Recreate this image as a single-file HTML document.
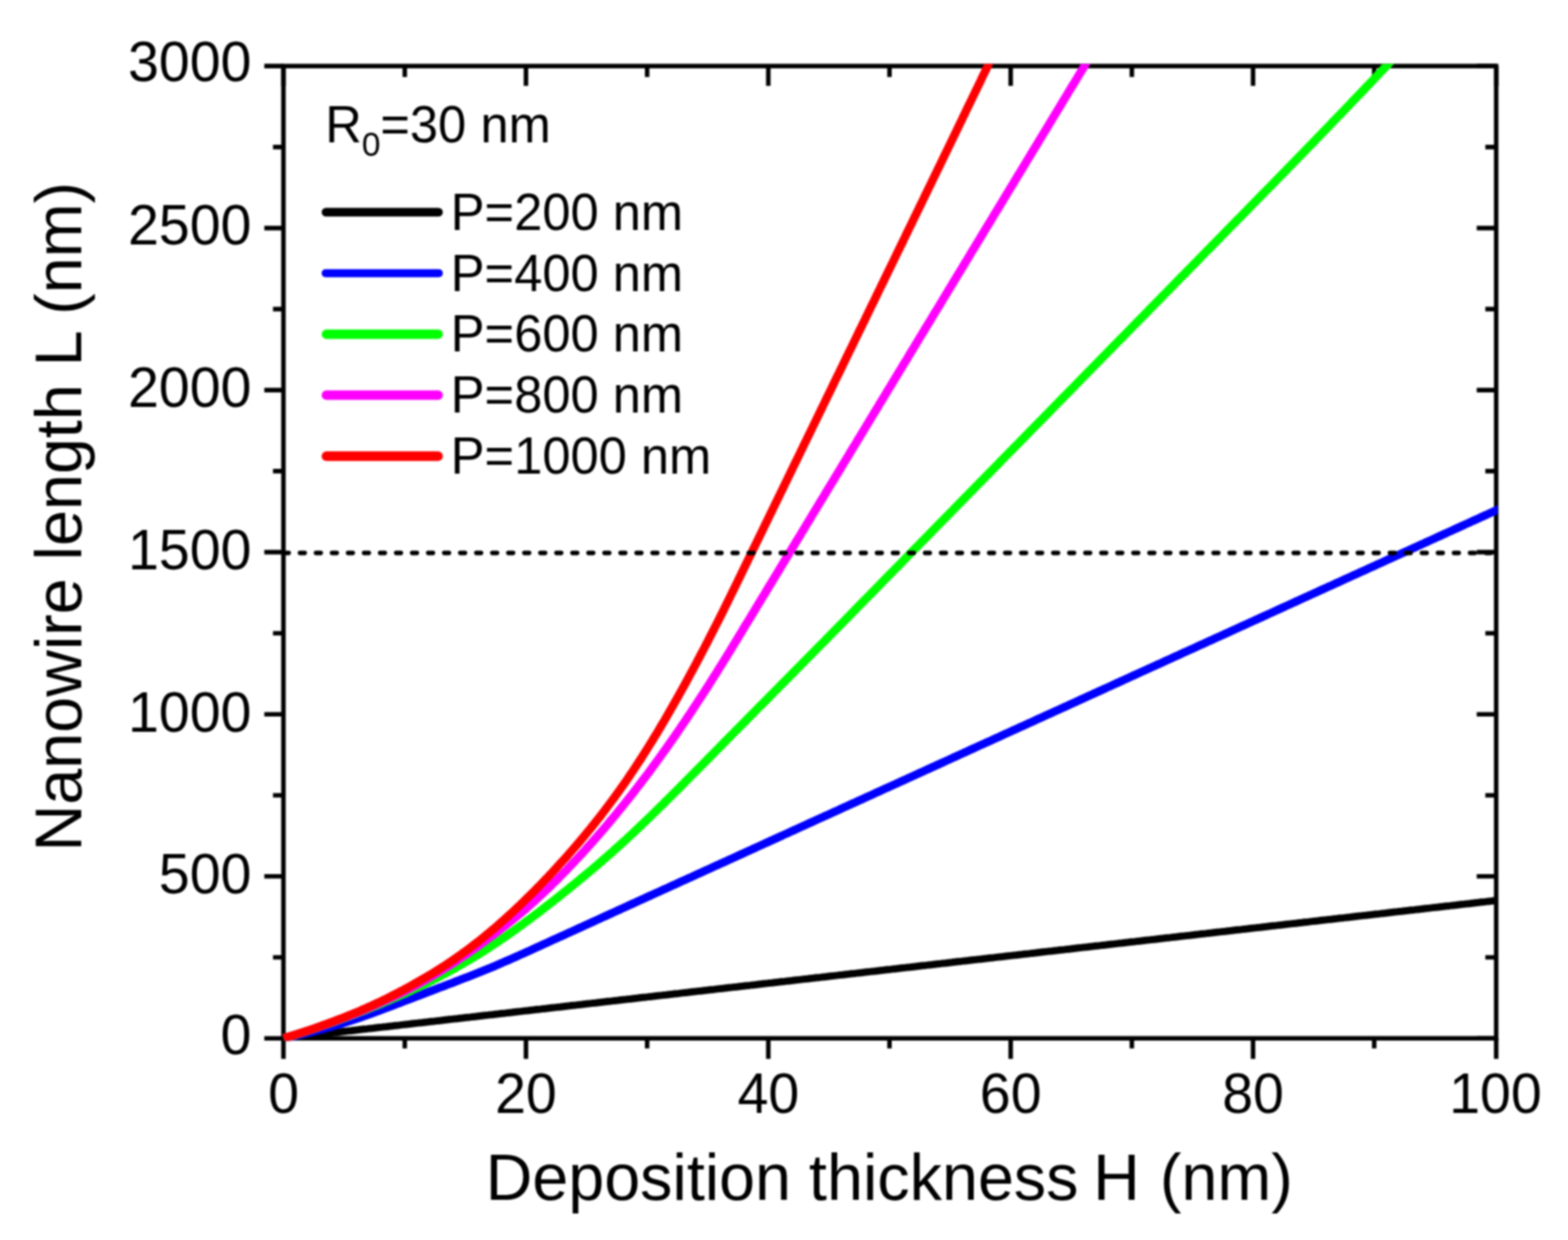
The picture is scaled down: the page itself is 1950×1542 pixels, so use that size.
<!DOCTYPE html><html><head><meta charset="utf-8"><style>html,body{margin:0;padding:0;background:#fff;overflow:hidden}svg{display:block;filter:blur(1px)}text{font-family:"Liberation Sans",Arial,sans-serif;fill:#000}</style></head><body>
<svg width="1950" height="1542" viewBox="0 0 1950 1542">
<g>
<rect width="1950" height="1542" fill="#fff"/>
<defs><clipPath id="c"><rect x="349.5" y="79.4" width="1512.9" height="1214.8"/></clipPath></defs>
<path d="M328.7,1291.20H352.5M1836.5,1291.20H1860.7M339.5,1190.45H352.5M1847.2,1190.45H1860.7M328.7,1089.69H352.5M1836.5,1089.69H1860.7M339.5,988.94H352.5M1847.2,988.94H1860.7M328.7,888.18H352.5M1836.5,888.18H1860.7M339.5,787.43H352.5M1847.2,787.43H1860.7M328.7,686.67H352.5M1836.5,686.67H1860.7M339.5,585.92H352.5M1847.2,585.92H1860.7M328.7,485.16H352.5M1836.5,485.16H1860.7M339.5,384.41H352.5M1847.2,384.41H1860.7M328.7,283.65H352.5M1836.5,283.65H1860.7M339.5,182.89H352.5M1847.2,182.89H1860.7M328.7,82.15H352.5M1836.5,82.15H1860.7M352.50,1291.2V1316.8M352.50,82.2V106.8M503.40,1291.2V1303.7M503.40,82.2V95.7M654.10,1291.2V1316.8M654.10,82.2V106.8M804.80,1291.2V1303.7M804.80,82.2V95.7M955.50,1291.2V1316.8M955.50,82.2V106.8M1106.20,1291.2V1303.7M1106.20,82.2V95.7M1256.90,1291.2V1316.8M1256.90,82.2V106.8M1407.60,1291.2V1303.7M1407.60,82.2V95.7M1558.30,1291.2V1316.8M1558.30,82.2V106.8M1709.00,1291.2V1303.7M1709.00,82.2V95.7M1860.70,1291.2V1316.8M1860.70,82.2V106.8" stroke="#000" stroke-width="5.6" fill="none"/>
<rect x="352.5" y="82.15" width="1508.2" height="1209.05" fill="none" stroke="#000" stroke-width="5.6"/>
<g clip-path="url(#c)" fill="none" stroke-width="10" stroke-linejoin="round">
<path d="M352.7,1291.2 356.7,1290.7 360.7,1290.3 364.7,1289.8 368.7,1289.4 372.7,1288.9 376.7,1288.5 380.7,1288.0 384.7,1287.6 388.7,1287.1 392.6,1286.7 396.6,1286.2 400.6,1285.8 404.6,1285.3 408.6,1284.8 412.6,1284.4 416.6,1283.9 420.6,1283.5 424.6,1283.0 428.6,1282.6 432.6,1282.1 436.6,1281.7 440.6,1281.2 444.6,1280.8 448.6,1280.3 452.6,1279.8 456.6,1279.4 460.6,1278.9 464.6,1278.5 468.6,1278.0 472.5,1277.6 476.5,1277.1 480.5,1276.7 484.5,1276.2 488.5,1275.8 492.5,1275.3 496.5,1274.9 500.5,1274.4 504.5,1273.9 508.5,1273.5 512.5,1273.0 516.5,1272.6 520.5,1272.1 524.5,1271.7 528.5,1271.2 532.5,1270.8 536.5,1270.3 540.5,1269.9 544.5,1269.4 548.5,1269.0 552.4,1268.5 556.4,1268.0 560.4,1267.6 564.4,1267.1 568.4,1266.7 572.4,1266.2 576.4,1265.8 580.4,1265.3 584.4,1264.9 588.4,1264.4 592.4,1264.0 596.4,1263.5 600.4,1263.0 604.4,1262.6 608.4,1262.1 612.4,1261.7 616.4,1261.2 620.4,1260.8 624.4,1260.3 628.4,1259.9 632.3,1259.4 636.3,1259.0 640.3,1258.5 644.3,1258.1 648.3,1257.6 652.3,1257.1 656.3,1256.7 660.3,1256.2 664.3,1255.8 668.3,1255.3 672.3,1254.9 676.3,1254.4 680.3,1254.0 684.3,1253.5 688.3,1253.1 692.3,1252.6 696.3,1252.2 700.3,1251.7 704.3,1251.2 708.2,1250.8 712.2,1250.3 716.2,1249.9 720.2,1249.4 724.2,1249.0 728.2,1248.5 732.2,1248.1 736.2,1247.6 740.2,1247.2 744.2,1246.7 748.2,1246.2 752.2,1245.8 756.2,1245.3 760.2,1244.9 764.2,1244.4 768.2,1244.0 772.2,1243.5 776.2,1243.1 780.2,1242.6 784.2,1242.2 788.1,1241.7 792.1,1241.3 796.1,1240.8 800.1,1240.3 804.1,1239.9 808.1,1239.4 812.1,1239.0 816.1,1238.5 820.1,1238.1 824.1,1237.6 828.1,1237.2 832.1,1236.7 836.1,1236.3 840.1,1235.8 844.1,1235.4 848.1,1234.9 852.1,1234.4 856.1,1234.0 860.1,1233.5 864.1,1233.1 868.0,1232.6 872.0,1232.2 876.0,1231.7 880.0,1231.3 884.0,1230.8 888.0,1230.4 892.0,1229.9 896.0,1229.4 900.0,1229.0 904.0,1228.5 908.0,1228.1 912.0,1227.6 916.0,1227.2 920.0,1226.7 924.0,1226.3 928.0,1225.8 932.0,1225.4 936.0,1224.9 940.0,1224.5 944.0,1224.0 947.9,1223.5 951.9,1223.1 955.9,1222.6 959.9,1222.2 963.9,1221.7 967.9,1221.3 971.9,1220.8 975.9,1220.4 979.9,1219.9 983.9,1219.5 987.9,1219.0 991.9,1218.6 995.9,1218.1 999.9,1217.6 1003.9,1217.2 1007.9,1216.7 1011.9,1216.3 1015.9,1215.8 1019.9,1215.4 1023.8,1214.9 1027.8,1214.5 1031.8,1214.0 1035.8,1213.6 1039.8,1213.1 1043.8,1212.6 1047.8,1212.2 1051.8,1211.7 1055.8,1211.3 1059.8,1210.8 1063.8,1210.4 1067.8,1209.9 1071.8,1209.5 1075.8,1209.0 1079.8,1208.6 1083.8,1208.1 1087.8,1207.7 1091.8,1207.2 1095.8,1206.7 1099.8,1206.3 1103.7,1205.8 1107.7,1205.4 1111.7,1204.9 1115.7,1204.5 1119.7,1204.0 1123.7,1203.6 1127.7,1203.1 1131.7,1202.7 1135.7,1202.2 1139.7,1201.8 1143.7,1201.3 1147.7,1200.8 1151.7,1200.4 1155.7,1199.9 1159.7,1199.5 1163.7,1199.0 1167.7,1198.6 1171.7,1198.1 1175.7,1197.7 1179.7,1197.2 1183.6,1196.8 1187.6,1196.3 1191.6,1195.8 1195.6,1195.4 1199.6,1194.9 1203.6,1194.5 1207.6,1194.0 1211.6,1193.6 1215.6,1193.1 1219.6,1192.7 1223.6,1192.2 1227.6,1191.8 1231.6,1191.3 1235.6,1190.9 1239.6,1190.4 1243.6,1189.9 1247.6,1189.5 1251.6,1189.0 1255.6,1188.6 1259.6,1188.1 1263.5,1187.7 1267.5,1187.2 1271.5,1186.8 1275.5,1186.3 1279.5,1185.9 1283.5,1185.4 1287.5,1185.0 1291.5,1184.5 1295.5,1184.0 1299.5,1183.6 1303.5,1183.1 1307.5,1182.7 1311.5,1182.2 1315.5,1181.8 1319.5,1181.3 1323.5,1180.9 1327.5,1180.4 1331.5,1180.0 1335.5,1179.5 1339.4,1179.0 1343.4,1178.6 1347.4,1178.1 1351.4,1177.7 1355.4,1177.2 1359.4,1176.8 1363.4,1176.3 1367.4,1175.9 1371.4,1175.4 1375.4,1175.0 1379.4,1174.5 1383.4,1174.1 1387.4,1173.6 1391.4,1173.1 1395.4,1172.7 1399.4,1172.2 1403.4,1171.8 1407.4,1171.3 1411.4,1170.9 1415.4,1170.4 1419.3,1170.0 1423.3,1169.5 1427.3,1169.1 1431.3,1168.6 1435.3,1168.2 1439.3,1167.7 1443.3,1167.2 1447.3,1166.8 1451.3,1166.3 1455.3,1165.9 1459.3,1165.4 1463.3,1165.0 1467.3,1164.5 1471.3,1164.1 1475.3,1163.6 1479.3,1163.2 1483.3,1162.7 1487.3,1162.2 1491.3,1161.8 1495.3,1161.3 1499.2,1160.9 1503.2,1160.4 1507.2,1160.0 1511.2,1159.5 1515.2,1159.1 1519.2,1158.6 1523.2,1158.2 1527.2,1157.7 1531.2,1157.3 1535.2,1156.8 1539.2,1156.3 1543.2,1155.9 1547.2,1155.4 1551.2,1155.0 1555.2,1154.5 1559.2,1154.1 1563.2,1153.6 1567.2,1153.2 1571.2,1152.7 1575.1,1152.3 1579.1,1151.8 1583.1,1151.3 1587.1,1150.9 1591.1,1150.4 1595.1,1150.0 1599.1,1149.5 1603.1,1149.1 1607.1,1148.6 1611.1,1148.2 1615.1,1147.7 1619.1,1147.3 1623.1,1146.8 1627.1,1146.4 1631.1,1145.9 1635.1,1145.4 1639.1,1145.0 1643.1,1144.5 1647.1,1144.1 1651.1,1143.6 1655.0,1143.2 1659.0,1142.7 1663.0,1142.3 1667.0,1141.8 1671.0,1141.4 1675.0,1140.9 1679.0,1140.5 1683.0,1140.0 1687.0,1139.5 1691.0,1139.1 1695.0,1138.6 1699.0,1138.2 1703.0,1137.7 1707.0,1137.3 1711.0,1136.8 1715.0,1136.4 1719.0,1135.9 1723.0,1135.5 1727.0,1135.0 1731.0,1134.5 1734.9,1134.1 1738.9,1133.6 1742.9,1133.2 1746.9,1132.7 1750.9,1132.3 1754.9,1131.8 1758.9,1131.4 1762.9,1130.9 1766.9,1130.5 1770.9,1130.0 1774.9,1129.6 1778.9,1129.1 1782.9,1128.6 1786.9,1128.2 1790.9,1127.7 1794.9,1127.3 1798.9,1126.8 1802.9,1126.4 1806.9,1125.9 1810.9,1125.5 1814.8,1125.0 1818.8,1124.6 1822.8,1124.1 1826.8,1123.7 1830.8,1123.2 1834.8,1122.7 1838.8,1122.3 1842.8,1121.8 1846.8,1121.4 1850.8,1120.9 1854.8,1120.5 1858.8,1120.0 1862.8,1119.6 1866.8,1119.1 1870.8,1118.7 1874.8,1118.2" stroke="#000000" stroke-width="9.0"/>
<path d="M352.7,1291.2 356.6,1290.4 360.6,1289.6 364.5,1288.8 368.4,1288.0 372.3,1287.1 376.3,1286.2 380.2,1285.3 384.1,1284.3 388.0,1283.4 391.8,1282.4 395.7,1281.3 399.6,1280.3 403.5,1279.3 407.3,1278.2 411.2,1277.1 415.1,1275.9 418.9,1274.8 422.7,1273.6 426.6,1272.4 430.4,1271.2 434.2,1270.0 438.0,1268.7 441.8,1267.4 445.6,1266.1 449.4,1264.8 453.2,1263.5 457.0,1262.2 460.8,1260.8 464.6,1259.5 468.3,1258.1 472.1,1256.7 475.8,1255.3 479.6,1253.8 483.4,1252.4 487.1,1251.0 490.9,1249.6 494.6,1248.1 498.4,1246.7 502.1,1245.3 505.9,1243.8 509.6,1242.4 513.4,1241.0 517.1,1239.5 520.9,1238.1 524.6,1236.7 528.4,1235.3 532.1,1233.8 535.9,1232.4 539.6,1231.0 543.4,1229.5 547.1,1228.1 550.9,1226.7 554.6,1225.2 558.4,1223.8 562.1,1222.4 565.8,1220.9 569.6,1219.5 573.3,1218.1 577.1,1216.6 580.8,1215.2 584.6,1213.7 588.3,1212.3 592.1,1210.8 595.8,1209.3 599.5,1207.8 603.2,1206.3 606.9,1204.8 610.7,1203.3 614.4,1201.7 618.0,1200.1 621.7,1198.5 625.4,1196.9 629.1,1195.3 632.8,1193.7 636.4,1192.1 640.1,1190.5 643.8,1188.8 647.4,1187.2 651.1,1185.6 654.8,1183.9 658.4,1182.3 662.1,1180.6 665.7,1178.9 669.4,1177.3 673.0,1175.6 676.7,1173.9 680.3,1172.3 684.0,1170.6 687.6,1168.9 691.3,1167.3 694.9,1165.6 698.6,1164.0 702.3,1162.3 705.9,1160.6 709.6,1159.0 713.2,1157.3 716.9,1155.6 720.5,1154.0 724.2,1152.3 727.8,1150.6 731.5,1149.0 735.1,1147.3 738.8,1145.7 742.4,1144.0 746.1,1142.3 749.7,1140.7 753.4,1139.0 757.0,1137.3 760.7,1135.7 764.3,1134.0 768.0,1132.3 771.7,1130.7 775.3,1129.0 779.0,1127.4 782.6,1125.7 786.3,1124.0 789.9,1122.4 793.6,1120.7 797.2,1119.0 800.9,1117.4 804.5,1115.7 808.2,1114.0 811.8,1112.4 815.5,1110.7 819.1,1109.1 822.8,1107.4 826.4,1105.7 830.1,1104.1 833.8,1102.4 837.4,1100.7 841.1,1099.1 844.7,1097.4 848.4,1095.7 852.0,1094.1 855.7,1092.4 859.3,1090.8 863.0,1089.1 866.6,1087.4 870.3,1085.8 873.9,1084.1 877.6,1082.4 881.2,1080.8 884.9,1079.1 888.5,1077.4 892.2,1075.8 895.8,1074.1 899.5,1072.5 903.2,1070.8 906.8,1069.1 910.5,1067.5 914.1,1065.8 917.8,1064.1 921.4,1062.5 925.1,1060.8 928.7,1059.1 932.4,1057.5 936.0,1055.8 939.7,1054.2 943.3,1052.5 947.0,1050.8 950.6,1049.2 954.3,1047.5 957.9,1045.8 961.6,1044.2 965.3,1042.5 968.9,1040.8 972.6,1039.2 976.2,1037.5 979.9,1035.8 983.5,1034.2 987.2,1032.5 990.8,1030.9 994.5,1029.2 998.1,1027.5 1001.8,1025.9 1005.4,1024.2 1009.1,1022.5 1012.7,1020.9 1016.4,1019.2 1020.0,1017.5 1023.7,1015.9 1027.3,1014.2 1031.0,1012.6 1034.7,1010.9 1038.3,1009.2 1042.0,1007.6 1045.6,1005.9 1049.3,1004.2 1052.9,1002.6 1056.6,1000.9 1060.2,999.2 1063.9,997.6 1067.5,995.9 1071.2,994.3 1074.8,992.6 1078.5,990.9 1082.1,989.3 1085.8,987.6 1089.4,985.9 1093.1,984.3 1096.7,982.6 1100.4,980.9 1104.1,979.3 1107.7,977.6 1111.4,976.0 1115.0,974.3 1118.7,972.6 1122.3,971.0 1126.0,969.3 1129.6,967.6 1133.3,966.0 1136.9,964.3 1140.6,962.6 1144.2,961.0 1147.9,959.3 1151.5,957.7 1155.2,956.0 1158.8,954.3 1162.5,952.7 1166.2,951.0 1169.8,949.3 1173.5,947.7 1177.1,946.0 1180.8,944.3 1184.4,942.7 1188.1,941.0 1191.7,939.4 1195.4,937.7 1199.0,936.0 1202.7,934.4 1206.3,932.7 1210.0,931.0 1213.6,929.4 1217.3,927.7 1220.9,926.0 1224.6,924.4 1228.2,922.7 1231.9,921.1 1235.6,919.4 1239.2,917.7 1242.9,916.1 1246.5,914.4 1250.2,912.7 1253.8,911.1 1257.5,909.4 1261.1,907.7 1264.8,906.1 1268.4,904.4 1272.1,902.8 1275.7,901.1 1279.4,899.4 1283.0,897.8 1286.7,896.1 1290.3,894.4 1294.0,892.8 1297.7,891.1 1301.3,889.4 1305.0,887.8 1308.6,886.1 1312.3,884.4 1315.9,882.8 1319.6,881.1 1323.2,879.5 1326.9,877.8 1330.5,876.1 1334.2,874.5 1337.8,872.8 1341.5,871.1 1345.1,869.5 1348.8,867.8 1352.4,866.1 1356.1,864.5 1359.7,862.8 1363.4,861.2 1367.1,859.5 1370.7,857.8 1374.4,856.2 1378.0,854.5 1381.7,852.8 1385.3,851.2 1389.0,849.5 1392.6,847.8 1396.3,846.2 1399.9,844.5 1403.6,842.9 1407.2,841.2 1410.9,839.5 1414.5,837.9 1418.2,836.2 1421.8,834.5 1425.5,832.9 1429.2,831.2 1432.8,829.5 1436.5,827.9 1440.1,826.2 1443.8,824.6 1447.4,822.9 1451.1,821.2 1454.7,819.6 1458.4,817.9 1462.0,816.2 1465.7,814.6 1469.3,812.9 1473.0,811.2 1476.6,809.6 1480.3,807.9 1483.9,806.3 1487.6,804.6 1491.2,802.9 1494.9,801.3 1498.6,799.6 1502.2,797.9 1505.9,796.3 1509.5,794.6 1513.2,792.9 1516.8,791.3 1520.5,789.6 1524.1,788.0 1527.8,786.3 1531.4,784.6 1535.1,783.0 1538.7,781.3 1542.4,779.6 1546.0,778.0 1549.7,776.3 1553.3,774.6 1557.0,773.0 1560.6,771.3 1564.3,769.7 1568.0,768.0 1571.6,766.3 1575.3,764.7 1578.9,763.0 1582.6,761.3 1586.2,759.7 1589.9,758.0 1593.5,756.3 1597.2,754.7 1600.8,753.0 1604.5,751.3 1608.1,749.7 1611.8,748.0 1615.4,746.4 1619.1,744.7 1622.7,743.0 1626.4,741.4 1630.1,739.7 1633.7,738.0 1637.4,736.4 1641.0,734.7 1644.7,733.0 1648.3,731.4 1652.0,729.7 1655.6,728.1 1659.3,726.4 1662.9,724.7 1666.6,723.1 1670.2,721.4 1673.9,719.7 1677.5,718.1 1681.2,716.4 1684.8,714.7 1688.5,713.1 1692.1,711.4 1695.8,709.8 1699.5,708.1 1703.1,706.4 1706.8,704.8 1710.4,703.1 1714.1,701.4 1717.7,699.8 1721.4,698.1 1725.0,696.4 1728.7,694.8 1732.3,693.1 1736.0,691.5 1739.6,689.8 1743.3,688.1 1746.9,686.5 1750.6,684.8 1754.2,683.1 1757.9,681.5 1761.6,679.8 1765.2,678.1 1768.9,676.5 1772.5,674.8 1776.2,673.2 1779.8,671.5 1783.5,669.8 1787.1,668.2 1790.8,666.5 1794.4,664.8 1798.1,663.2 1801.7,661.5 1805.4,659.8 1809.0,658.2 1812.7,656.5 1816.3,654.8 1820.0,653.2 1823.6,651.5 1827.3,649.8 1830.9,648.2 1834.6,646.5 1838.3,644.9 1841.9,643.2 1845.6,641.5 1849.2,639.9 1852.9,638.2 1856.5,636.5 1860.2,634.9 1863.8,633.2 1867.5,631.5 1871.1,629.9 1874.8,628.2" stroke="#0000ff" stroke-width="10.2"/>
<path d="M352.7,1291.2 356.5,1290.1 360.4,1288.9 364.2,1287.8 368.1,1286.6 371.9,1285.4 375.7,1284.2 379.5,1283.0 383.4,1281.7 387.2,1280.5 391.0,1279.2 394.8,1277.9 398.6,1276.6 402.4,1275.3 406.2,1274.0 409.9,1272.7 413.7,1271.4 417.5,1270.0 421.3,1268.6 425.0,1267.3 428.8,1265.9 432.5,1264.5 436.3,1263.1 440.0,1261.6 443.8,1260.2 447.5,1258.7 451.3,1257.3 455.0,1255.8 458.7,1254.3 462.4,1252.8 466.2,1251.3 469.9,1249.8 473.6,1248.3 477.3,1246.7 481.0,1245.2 484.7,1243.6 488.4,1242.0 492.0,1240.4 495.7,1238.8 499.4,1237.2 503.0,1235.6 506.7,1233.9 510.3,1232.2 514.0,1230.5 517.6,1228.8 521.2,1227.1 524.8,1225.3 528.4,1223.6 532.0,1221.8 535.6,1220.0 539.2,1218.2 542.7,1216.3 546.3,1214.5 549.8,1212.6 553.4,1210.7 556.9,1208.8 560.4,1206.9 563.9,1205.0 567.4,1203.0 570.9,1201.0 574.4,1199.0 577.9,1197.0 581.4,1195.0 584.8,1193.0 588.2,1190.9 591.7,1188.8 595.1,1186.7 598.5,1184.6 601.9,1182.5 605.3,1180.3 608.6,1178.1 612.0,1175.9 615.3,1173.7 618.6,1171.5 622.0,1169.2 625.3,1166.9 628.6,1164.7 631.9,1162.4 635.1,1160.1 638.4,1157.7 641.7,1155.4 644.9,1153.0 648.2,1150.7 651.4,1148.3 654.6,1145.9 657.9,1143.6 661.1,1141.1 664.3,1138.7 667.5,1136.3 670.7,1133.9 673.8,1131.5 677.0,1129.0 680.2,1126.5 683.4,1124.1 686.5,1121.6 689.7,1119.1 692.8,1116.7 696.0,1114.2 699.1,1111.7 702.2,1109.2 705.4,1106.7 708.5,1104.1 711.6,1101.6 714.7,1099.1 717.8,1096.6 720.9,1094.0 724.0,1091.5 727.1,1088.9 730.2,1086.3 733.3,1083.7 736.3,1081.2 739.4,1078.6 742.4,1076.0 745.5,1073.4 748.5,1070.7 751.5,1068.1 754.6,1065.5 757.6,1062.8 760.6,1060.2 763.6,1057.5 766.6,1054.8 769.6,1052.2 772.5,1049.5 775.5,1046.8 778.5,1044.1 781.4,1041.3 784.4,1038.6 787.3,1035.9 790.2,1033.1 793.1,1030.4 796.0,1027.6 798.9,1024.8 801.8,1022.1 804.7,1019.3 807.6,1016.5 810.5,1013.7 813.3,1010.9 816.2,1008.1 819.1,1005.3 821.9,1002.5 824.8,999.7 827.6,996.8 830.5,994.0 833.3,991.2 836.2,988.4 839.0,985.5 841.8,982.7 844.7,979.9 847.5,977.0 850.3,974.2 853.2,971.3 856.0,968.5 858.8,965.6 861.6,962.8 864.4,959.9 867.3,957.1 870.1,954.2 872.9,951.4 875.7,948.5 878.6,945.7 881.4,942.8 884.2,940.0 887.0,937.1 889.8,934.3 892.7,931.4 895.5,928.6 898.3,925.7 901.1,922.8 903.9,920.0 906.8,917.1 909.6,914.3 912.4,911.4 915.2,908.6 918.0,905.7 920.9,902.9 923.7,900.0 926.5,897.2 929.3,894.3 932.1,891.5 935.0,888.6 937.8,885.8 940.6,882.9 943.4,880.1 946.2,877.2 949.1,874.4 951.9,871.5 954.7,868.7 957.5,865.8 960.3,863.0 963.2,860.1 966.0,857.3 968.8,854.4 971.6,851.6 974.4,848.7 977.3,845.9 980.1,843.0 982.9,840.2 985.7,837.3 988.5,834.5 991.4,831.6 994.2,828.8 997.0,825.9 999.8,823.0 1002.6,820.2 1005.5,817.3 1008.3,814.5 1011.1,811.6 1013.9,808.8 1016.7,805.9 1019.5,803.1 1022.4,800.2 1025.2,797.4 1028.0,794.5 1030.8,791.6 1033.6,788.8 1036.4,785.9 1039.2,783.1 1042.0,780.2 1044.9,777.3 1047.7,774.5 1050.5,771.6 1053.3,768.7 1056.1,765.9 1058.9,763.0 1061.7,760.2 1064.5,757.3 1067.3,754.4 1070.1,751.6 1072.9,748.7 1075.7,745.8 1078.6,743.0 1081.4,740.1 1084.2,737.2 1087.0,734.4 1089.8,731.5 1092.6,728.7 1095.4,725.8 1098.2,722.9 1101.0,720.1 1103.8,717.2 1106.6,714.3 1109.4,711.5 1112.2,708.6 1115.1,705.7 1117.9,702.9 1120.7,700.0 1123.5,697.2 1126.3,694.3 1129.1,691.4 1131.9,688.6 1134.7,685.7 1137.5,682.8 1140.3,680.0 1143.1,677.1 1145.9,674.2 1148.7,671.4 1151.6,668.5 1154.4,665.7 1157.2,662.8 1160.0,659.9 1162.8,657.1 1165.6,654.2 1168.4,651.3 1171.2,648.5 1174.0,645.6 1176.8,642.7 1179.6,639.9 1182.4,637.0 1185.3,634.2 1188.1,631.3 1190.9,628.4 1193.7,625.6 1196.5,622.7 1199.3,619.8 1202.1,617.0 1204.9,614.1 1207.7,611.2 1210.5,608.4 1213.3,605.5 1216.1,602.7 1218.9,599.8 1221.8,596.9 1224.6,594.1 1227.4,591.2 1230.2,588.3 1233.0,585.5 1235.8,582.6 1238.6,579.7 1241.4,576.9 1244.2,574.0 1247.0,571.1 1249.8,568.3 1252.6,565.4 1255.4,562.6 1258.3,559.7 1261.1,556.8 1263.9,554.0 1266.7,551.1 1269.5,548.2 1272.3,545.4 1275.1,542.5 1277.9,539.6 1280.7,536.8 1283.5,533.9 1286.3,531.1 1289.1,528.2 1292.0,525.3 1294.8,522.5 1297.6,519.6 1300.4,516.7 1303.2,513.9 1306.0,511.0 1308.8,508.1 1311.6,505.3 1314.4,502.4 1317.2,499.6 1320.0,496.7 1322.8,493.8 1325.6,491.0 1328.5,488.1 1331.3,485.2 1334.1,482.4 1336.9,479.5 1339.7,476.6 1342.5,473.8 1345.3,470.9 1348.1,468.1 1350.9,465.2 1353.7,462.3 1356.5,459.5 1359.3,456.6 1362.1,453.7 1365.0,450.9 1367.8,448.0 1370.6,445.1 1373.4,442.3 1376.2,439.4 1379.0,436.6 1381.8,433.7 1384.6,430.8 1387.4,428.0 1390.2,425.1 1393.0,422.2 1395.8,419.4 1398.7,416.5 1401.5,413.6 1404.3,410.8 1407.1,407.9 1409.9,405.1 1412.7,402.2 1415.5,399.3 1418.3,396.5 1421.1,393.6 1423.9,390.7 1426.7,387.9 1429.5,385.0 1432.3,382.1 1435.2,379.3 1438.0,376.4 1440.8,373.6 1443.6,370.7 1446.4,367.8 1449.2,365.0 1452.0,362.1 1454.8,359.2 1457.6,356.4 1460.4,353.5 1463.2,350.6 1466.0,347.8 1468.8,344.9 1471.7,342.1 1474.5,339.2 1477.3,336.3 1480.1,333.5 1482.9,330.6 1485.7,327.7 1488.5,324.9 1491.3,322.0 1494.1,319.1 1496.9,316.3 1499.7,313.4 1502.5,310.6 1505.4,307.7 1508.2,304.8 1511.0,302.0 1513.8,299.1 1516.6,296.2 1519.4,293.4 1522.2,290.5 1525.0,287.6 1527.8,284.8 1530.6,281.9 1533.4,279.1 1536.2,276.2 1539.0,273.3 1541.9,270.5 1544.7,267.6 1547.5,264.7 1550.3,261.9 1553.1,259.0 1555.9,256.1 1558.7,253.3 1561.5,250.4 1564.3,247.6 1567.1,244.7 1569.9,241.8 1572.7,239.0 1575.5,236.1 1578.4,233.2 1581.2,230.4 1584.0,227.5 1586.8,224.6 1589.6,221.8 1592.4,218.9 1595.2,216.0 1598.0,213.2 1600.8,210.3 1603.6,207.4 1606.4,204.6 1609.2,201.7 1612.0,198.8 1614.8,195.9 1617.6,193.1 1620.4,190.2 1623.2,187.3 1626.0,184.4 1628.8,181.6 1631.6,178.7 1634.3,175.8 1637.1,172.9 1639.9,170.0 1642.7,167.2 1645.5,164.3 1648.3,161.4 1651.1,158.5 1653.9,155.6 1656.6,152.7 1659.4,149.8 1662.2,146.9 1665.0,144.1 1667.8,141.2 1670.5,138.3 1673.3,135.4 1676.1,132.5 1678.9,129.6 1681.6,126.7 1684.4,123.8 1687.2,120.9 1690.0,118.0 1692.7,115.1 1695.5,112.2 1698.3,109.3 1701.0,106.4 1703.8,103.5 1706.6,100.6 1709.3,97.7 1712.1,94.8 1714.8,91.8 1717.6,88.9 1720.4,86.0 1723.1,83.1 1725.9,80.2 1728.6,77.3 1731.4,74.4 1734.2,71.5 1736.9,68.6 1739.7,65.6 1742.4,62.7 1745.2,59.8" stroke="#00ff00" stroke-width="10.6"/>
<path d="M352.7,1291.2 356.5,1290.1 360.4,1288.9 364.2,1287.7 368.0,1286.5 371.9,1285.3 375.7,1284.1 379.5,1282.9 383.3,1281.6 387.1,1280.4 390.9,1279.1 394.7,1277.8 398.5,1276.5 402.3,1275.2 406.1,1273.8 409.9,1272.5 413.6,1271.1 417.4,1269.7 421.1,1268.3 424.9,1266.9 428.6,1265.5 432.4,1264.1 436.1,1262.6 439.9,1261.1 443.6,1259.6 447.3,1258.1 451.0,1256.6 454.7,1255.1 458.4,1253.5 462.1,1251.9 465.8,1250.3 469.4,1248.7 473.1,1247.1 476.7,1245.4 480.4,1243.7 484.0,1242.1 487.7,1240.3 491.3,1238.6 494.9,1236.9 498.5,1235.1 502.1,1233.3 505.6,1231.5 509.2,1229.6 512.7,1227.7 516.3,1225.8 519.8,1223.9 523.3,1222.0 526.8,1220.0 530.3,1218.0 533.7,1216.0 537.2,1214.0 540.7,1212.0 544.1,1209.9 547.5,1207.8 550.9,1205.7 554.3,1203.6 557.7,1201.4 561.1,1199.3 564.4,1197.1 567.8,1194.9 571.1,1192.6 574.5,1190.4 577.8,1188.2 581.1,1185.9 584.4,1183.6 587.7,1181.3 591.0,1179.0 594.2,1176.7 597.5,1174.3 600.7,1172.0 604.0,1169.6 607.2,1167.3 610.4,1164.9 613.6,1162.5 616.8,1160.1 620.0,1157.6 623.2,1155.2 626.4,1152.7 629.6,1150.3 632.7,1147.8 635.8,1145.3 638.9,1142.7 642.0,1140.2 645.1,1137.6 648.2,1135.1 651.2,1132.5 654.3,1129.8 657.3,1127.2 660.3,1124.5 663.3,1121.9 666.2,1119.2 669.2,1116.4 672.1,1113.7 675.1,1111.0 678.0,1108.2 680.9,1105.5 683.8,1102.7 686.6,1099.9 689.5,1097.1 692.4,1094.2 695.2,1091.4 698.0,1088.6 700.8,1085.7 703.6,1082.8 706.4,1079.9 709.2,1077.0 711.9,1074.1 714.7,1071.2 717.4,1068.3 720.1,1065.3 722.9,1062.4 725.6,1059.4 728.3,1056.5 730.9,1053.5 733.6,1050.5 736.3,1047.5 738.9,1044.5 741.6,1041.5 744.2,1038.5 746.8,1035.4 749.5,1032.4 752.1,1029.3 754.7,1026.3 757.3,1023.2 759.8,1020.2 762.4,1017.1 765.0,1014.0 767.5,1010.9 770.0,1007.8 772.6,1004.7 775.1,1001.6 777.6,998.4 780.1,995.3 782.6,992.1 785.1,989.0 787.5,985.8 790.0,982.7 792.4,979.5 794.9,976.3 797.3,973.1 799.7,969.9 802.2,966.7 804.6,963.5 807.0,960.3 809.4,957.1 811.7,953.9 814.1,950.6 816.5,947.4 818.8,944.1 821.2,940.9 823.5,937.6 825.8,934.4 828.2,931.1 830.5,927.8 832.8,924.5 835.1,921.3 837.4,918.0 839.7,914.7 841.9,911.4 844.2,908.1 846.5,904.8 848.7,901.4 851.0,898.1 853.2,894.8 855.4,891.5 857.7,888.1 859.9,884.8 862.1,881.4 864.3,878.1 866.5,874.7 868.7,871.4 870.9,868.0 873.1,864.7 875.3,861.3 877.5,857.9 879.6,854.6 881.8,851.2 883.9,847.8 886.1,844.4 888.2,841.0 890.4,837.6 892.5,834.2 894.6,830.8 896.7,827.4 898.9,824.0 901.0,820.6 903.1,817.2 905.2,813.8 907.3,810.4 909.4,807.0 911.5,803.5 913.5,800.1 915.6,796.7 917.7,793.3 919.8,789.8 921.9,786.4 923.9,783.0 926.0,779.5 928.1,776.1 930.2,772.7 932.3,769.3 934.3,765.8 936.4,762.4 938.5,759.0 940.6,755.5 942.6,752.1 944.7,748.7 946.8,745.2 948.9,741.8 951.0,738.4 953.0,735.0 955.1,731.5 957.2,728.1 959.3,724.7 961.4,721.2 963.4,717.8 965.5,714.4 967.6,711.0 969.7,707.5 971.7,704.1 973.8,700.7 975.9,697.2 978.0,693.8 980.1,690.4 982.1,686.9 984.2,683.5 986.3,680.1 988.4,676.7 990.4,673.2 992.5,669.8 994.6,666.4 996.7,662.9 998.8,659.5 1000.8,656.1 1002.9,652.6 1005.0,649.2 1007.1,645.8 1009.1,642.4 1011.2,638.9 1013.3,635.5 1015.4,632.1 1017.5,628.6 1019.5,625.2 1021.6,621.8 1023.7,618.4 1025.8,614.9 1027.8,611.5 1029.9,608.1 1032.0,604.6 1034.1,601.2 1036.2,597.8 1038.2,594.3 1040.3,590.9 1042.4,587.5 1044.5,584.1 1046.5,580.6 1048.6,577.2 1050.7,573.8 1052.8,570.3 1054.9,566.9 1056.9,563.5 1059.0,560.0 1061.1,556.6 1063.2,553.2 1065.2,549.8 1067.3,546.3 1069.4,542.9 1071.5,539.5 1073.6,536.0 1075.6,532.6 1077.7,529.2 1079.8,525.8 1081.9,522.3 1083.9,518.9 1086.0,515.5 1088.1,512.0 1090.2,508.6 1092.3,505.2 1094.3,501.7 1096.4,498.3 1098.5,494.9 1100.6,491.5 1102.6,488.0 1104.7,484.6 1106.8,481.2 1108.9,477.7 1111.0,474.3 1113.0,470.9 1115.1,467.5 1117.2,464.0 1119.3,460.6 1121.4,457.2 1123.4,453.7 1125.5,450.3 1127.6,446.9 1129.7,443.4 1131.7,440.0 1133.8,436.6 1135.9,433.2 1138.0,429.7 1140.1,426.3 1142.1,422.9 1144.2,419.4 1146.3,416.0 1148.4,412.6 1150.4,409.1 1152.5,405.7 1154.6,402.3 1156.7,398.9 1158.8,395.4 1160.8,392.0 1162.9,388.6 1165.0,385.1 1167.1,381.7 1169.1,378.3 1171.2,374.9 1173.3,371.4 1175.4,368.0 1177.5,364.6 1179.5,361.1 1181.6,357.7 1183.7,354.3 1185.8,350.8 1187.8,347.4 1189.9,344.0 1192.0,340.6 1194.1,337.1 1196.2,333.7 1198.2,330.3 1200.3,326.8 1202.4,323.4 1204.5,320.0 1206.5,316.5 1208.6,313.1 1210.7,309.7 1212.8,306.3 1214.9,302.8 1216.9,299.4 1219.0,296.0 1221.1,292.5 1223.2,289.1 1225.2,285.7 1227.3,282.3 1229.4,278.8 1231.5,275.4 1233.6,272.0 1235.6,268.5 1237.7,265.1 1239.8,261.7 1241.9,258.2 1243.9,254.8 1246.0,251.4 1248.1,248.0 1250.2,244.5 1252.3,241.1 1254.3,237.7 1256.4,234.2 1258.5,230.8 1260.6,227.4 1262.6,223.9 1264.7,220.5 1266.8,217.1 1268.9,213.7 1271.0,210.2 1273.0,206.8 1275.1,203.4 1277.2,199.9 1279.3,196.5 1281.4,193.1 1283.4,189.7 1285.5,186.2 1287.6,182.8 1289.7,179.4 1291.7,175.9 1293.8,172.5 1295.9,169.1 1298.0,165.6 1300.1,162.2 1302.1,158.8 1304.2,155.4 1306.3,151.9 1308.4,148.5 1310.4,145.1 1312.5,141.6 1314.6,138.2 1316.7,134.8 1318.8,131.4 1320.8,127.9 1322.9,124.5 1325.0,121.1 1327.1,117.6 1329.1,114.2 1331.2,110.8 1333.3,107.3 1335.4,103.9 1337.5,100.5 1339.5,97.1 1341.6,93.6 1343.7,90.2 1345.8,86.8 1347.8,83.3 1349.9,79.9 1352.0,76.5 1354.1,73.0 1356.2,69.6 1358.2,66.2 1360.3,62.8 1362.4,59.3" stroke="#ff00ff" stroke-width="10.4"/>
<path d="M352.7,1291.2 356.5,1290.0 360.4,1288.8 364.2,1287.6 368.0,1286.4 371.9,1285.2 375.7,1283.9 379.5,1282.6 383.3,1281.4 387.1,1280.1 390.9,1278.8 394.7,1277.4 398.5,1276.1 402.3,1274.7 406.0,1273.4 409.8,1272.0 413.6,1270.6 417.3,1269.2 421.1,1267.7 424.8,1266.3 428.6,1264.8 432.3,1263.3 436.0,1261.8 439.7,1260.3 443.5,1258.7 447.2,1257.2 450.8,1255.6 454.5,1254.0 458.2,1252.3 461.9,1250.7 465.5,1249.0 469.2,1247.3 472.8,1245.6 476.4,1243.8 480.0,1242.1 483.6,1240.3 487.2,1238.5 490.8,1236.6 494.3,1234.8 497.9,1232.9 501.5,1231.0 505.0,1229.1 508.5,1227.2 512.0,1225.3 515.5,1223.3 519.0,1221.3 522.5,1219.3 526.0,1217.3 529.5,1215.3 532.9,1213.2 536.4,1211.2 539.8,1209.1 543.2,1207.0 546.6,1204.8 550.0,1202.7 553.4,1200.5 556.7,1198.3 560.1,1196.0 563.4,1193.8 566.7,1191.5 570.0,1189.2 573.3,1186.9 576.5,1184.5 579.8,1182.2 583.0,1179.8 586.2,1177.4 589.4,1174.9 592.6,1172.5 595.8,1170.0 598.9,1167.5 602.0,1165.0 605.2,1162.4 608.3,1159.9 611.3,1157.3 614.4,1154.7 617.4,1152.1 620.5,1149.4 623.5,1146.8 626.5,1144.1 629.5,1141.4 632.5,1138.7 635.4,1136.0 638.4,1133.3 641.3,1130.5 644.2,1127.8 647.2,1125.0 650.1,1122.2 652.9,1119.4 655.8,1116.6 658.7,1113.8 661.5,1111.0 664.4,1108.1 667.2,1105.3 670.0,1102.4 672.8,1099.5 675.6,1096.6 678.4,1093.7 681.2,1090.8 683.9,1087.9 686.7,1085.0 689.4,1082.0 692.1,1079.1 694.8,1076.1 697.5,1073.1 700.2,1070.2 702.9,1067.2 705.6,1064.2 708.2,1061.2 710.9,1058.1 713.5,1055.1 716.1,1052.1 718.8,1049.0 721.4,1045.9 723.9,1042.9 726.5,1039.8 729.1,1036.7 731.6,1033.6 734.2,1030.5 736.7,1027.3 739.2,1024.2 741.7,1021.1 744.2,1017.9 746.7,1014.7 749.1,1011.6 751.6,1008.4 754.0,1005.2 756.4,1002.0 758.8,998.7 761.2,995.5 763.6,992.3 766.0,989.0 768.3,985.8 770.7,982.5 773.0,979.2 775.3,976.0 777.6,972.7 779.9,969.4 782.2,966.0 784.4,962.7 786.7,959.4 788.9,956.0 791.1,952.7 793.3,949.3 795.5,946.0 797.7,942.6 799.8,939.2 802.0,935.8 804.1,932.4 806.3,929.0 808.4,925.6 810.5,922.2 812.6,918.7 814.7,915.3 816.8,911.9 818.9,908.4 820.9,905.0 823.0,901.5 825.0,898.1 827.1,894.6 829.1,891.1 831.1,887.7 833.1,884.2 835.1,880.7 837.1,877.2 839.1,873.7 841.1,870.2 843.0,866.7 845.0,863.2 846.9,859.7 848.9,856.2 850.8,852.7 852.8,849.1 854.7,845.6 856.6,842.1 858.5,838.5 860.4,835.0 862.3,831.5 864.2,827.9 866.1,824.4 868.0,820.8 869.9,817.3 871.7,813.7 873.6,810.2 875.5,806.6 877.3,803.0 879.2,799.5 881.0,795.9 882.8,792.3 884.7,788.8 886.5,785.2 888.3,781.6 890.1,778.0 892.0,774.4 893.8,770.8 895.6,767.2 897.4,763.6 899.2,760.1 900.9,756.5 902.7,752.9 904.5,749.3 906.3,745.7 908.1,742.0 909.8,738.4 911.6,734.8 913.4,731.2 915.1,727.6 916.9,724.0 918.6,720.4 920.4,716.8 922.2,713.2 923.9,709.5 925.7,705.9 927.4,702.3 929.2,698.7 930.9,695.1 932.7,691.5 934.5,687.9 936.2,684.2 938.0,680.6 939.7,677.0 941.5,673.4 943.2,669.8 945.0,666.2 946.8,662.6 948.5,659.0 950.3,655.3 952.0,651.7 953.8,648.1 955.5,644.5 957.3,640.9 959.0,637.3 960.8,633.7 962.6,630.0 964.3,626.4 966.1,622.8 967.8,619.2 969.6,615.6 971.3,612.0 973.1,608.4 974.9,604.7 976.6,601.1 978.4,597.5 980.1,593.9 981.9,590.3 983.6,586.7 985.4,583.1 987.1,579.4 988.9,575.8 990.7,572.2 992.4,568.6 994.2,565.0 995.9,561.4 997.7,557.8 999.4,554.1 1001.2,550.5 1003.0,546.9 1004.7,543.3 1006.5,539.7 1008.2,536.1 1010.0,532.5 1011.7,528.9 1013.5,525.2 1015.3,521.6 1017.0,518.0 1018.8,514.4 1020.5,510.8 1022.3,507.2 1024.0,503.6 1025.8,499.9 1027.5,496.3 1029.3,492.7 1031.1,489.1 1032.8,485.5 1034.6,481.9 1036.3,478.3 1038.1,474.6 1039.8,471.0 1041.6,467.4 1043.4,463.8 1045.1,460.2 1046.9,456.6 1048.6,453.0 1050.4,449.3 1052.1,445.7 1053.9,442.1 1055.6,438.5 1057.4,434.9 1059.2,431.3 1060.9,427.7 1062.7,424.0 1064.4,420.4 1066.2,416.8 1067.9,413.2 1069.7,409.6 1071.5,406.0 1073.2,402.4 1075.0,398.8 1076.7,395.1 1078.5,391.5 1080.2,387.9 1082.0,384.3 1083.7,380.7 1085.5,377.1 1087.3,373.5 1089.0,369.8 1090.8,366.2 1092.5,362.6 1094.3,359.0 1096.0,355.4 1097.8,351.8 1099.6,348.2 1101.3,344.5 1103.1,340.9 1104.8,337.3 1106.6,333.7 1108.3,330.1 1110.1,326.5 1111.8,322.9 1113.6,319.2 1115.3,315.6 1117.1,312.0 1118.9,308.4 1120.6,304.8 1122.4,301.2 1124.1,297.6 1125.9,293.9 1127.6,290.3 1129.4,286.7 1131.1,283.1 1132.9,279.5 1134.7,275.9 1136.4,272.3 1138.2,268.6 1139.9,265.0 1141.7,261.4 1143.4,257.8 1145.2,254.2 1146.9,250.6 1148.7,246.9 1150.4,243.3 1152.2,239.7 1153.9,236.1 1155.7,232.5 1157.5,228.9 1159.2,225.3 1161.0,221.6 1162.7,218.0 1164.5,214.4 1166.2,210.8 1168.0,207.2 1169.7,203.6 1171.5,199.9 1173.2,196.3 1175.0,192.7 1176.7,189.1 1178.5,185.5 1180.2,181.9 1182.0,178.2 1183.7,174.6 1185.5,171.0 1187.2,167.4 1189.0,163.8 1190.7,160.2 1192.5,156.5 1194.2,152.9 1196.0,149.3 1197.7,145.7 1199.5,142.1 1201.2,138.4 1202.9,134.8 1204.7,131.2 1206.4,127.6 1208.2,124.0 1209.9,120.4 1211.7,116.7 1213.4,113.1 1215.2,109.5 1216.9,105.9 1218.7,102.3 1220.4,98.6 1222.1,95.0 1223.9,91.4 1225.6,87.8 1227.4,84.2 1229.1,80.5 1230.9,76.9 1232.6,73.3 1234.3,69.7 1236.1,66.1 1237.8,62.4 1239.6,58.8" stroke="#ff0000" stroke-width="10.4"/>
</g>
<path d="M353.12,687.6H1858" stroke="#000" stroke-width="5.6" stroke-dasharray="5.9 14.033" stroke-linecap="round" fill="none"/>
<text transform="translate(312.70,1311.35) scale(1,1.030)" font-size="69" text-anchor="end">0</text>
<text transform="translate(312.70,1110.95) scale(1,1.030)" font-size="69" text-anchor="end">500</text>
<text transform="translate(312.70,910.15) scale(1,1.030)" font-size="69" text-anchor="end">1000</text>
<text transform="translate(312.70,707.65) scale(1,1.030)" font-size="69" text-anchor="end">1500</text>
<text transform="translate(312.70,506.05) scale(1,1.030)" font-size="69" text-anchor="end">2000</text>
<text transform="translate(312.70,303.55) scale(1,1.030)" font-size="69" text-anchor="end">2500</text>
<text transform="translate(312.70,101.35) scale(1,1.030)" font-size="69" text-anchor="end">3000</text>
<text transform="translate(352.70,1383.90) scale(1,1.030)" font-size="69" text-anchor="middle">0</text>
<text transform="translate(654.10,1383.90) scale(1,1.030)" font-size="69" text-anchor="middle">20</text>
<text transform="translate(955.50,1383.90) scale(1,1.030)" font-size="69" text-anchor="middle">40</text>
<text transform="translate(1256.90,1383.90) scale(1,1.030)" font-size="69" text-anchor="middle">60</text>
<text transform="translate(1558.30,1383.90) scale(1,1.030)" font-size="69" text-anchor="middle">80</text>
<text transform="translate(1859.70,1383.90) scale(1,1.030)" font-size="69" text-anchor="middle">100</text>
<text transform="translate(603.90,1491.80) scale(1,1.025)" font-size="80.4">Deposition thickness</text>
<text transform="translate(1359.60,1491.80) scale(1,1.025)" font-size="80.4">H</text>
<text transform="translate(1442.51,1491.80) scale(1,1.025)" font-size="80.4">(nm)</text>
<text transform="translate(101.00,642.50) rotate(-90) scale(1,1.025)" font-size="80.4" text-anchor="middle">Nanowire length L (nm)</text>
<text transform="translate(404.40,177.30) scale(1,1.035)" font-size="63">R<tspan font-size="41.6" dy="16.5">0</tspan><tspan dy="-16.5">=30 nm</tspan></text>
<path d="M405.4,263.9H545.3" stroke="#000000" stroke-width="10.8" stroke-linecap="round"/>
<text transform="translate(560.60,285.70) scale(1,1.035)" font-size="63">P=200 nm</text>
<path d="M404.9,339.7H545.8" stroke="#0000ff" stroke-width="9.9" stroke-linecap="round"/>
<text transform="translate(560.60,361.55) scale(1,1.035)" font-size="63">P=400 nm</text>
<path d="M405.9,415.6H544.9" stroke="#00ff00" stroke-width="11.7" stroke-linecap="round"/>
<text transform="translate(560.60,437.40) scale(1,1.035)" font-size="63">P=600 nm</text>
<path d="M405.9,491.4H544.9" stroke="#ff00ff" stroke-width="11.7" stroke-linecap="round"/>
<text transform="translate(560.60,513.25) scale(1,1.035)" font-size="63">P=800 nm</text>
<path d="M406.0,567.3H544.7" stroke="#ff0000" stroke-width="12.0" stroke-linecap="round"/>
<text transform="translate(560.60,589.10) scale(1,1.035)" font-size="63">P=1000 nm</text>
</g>
</svg></body></html>
